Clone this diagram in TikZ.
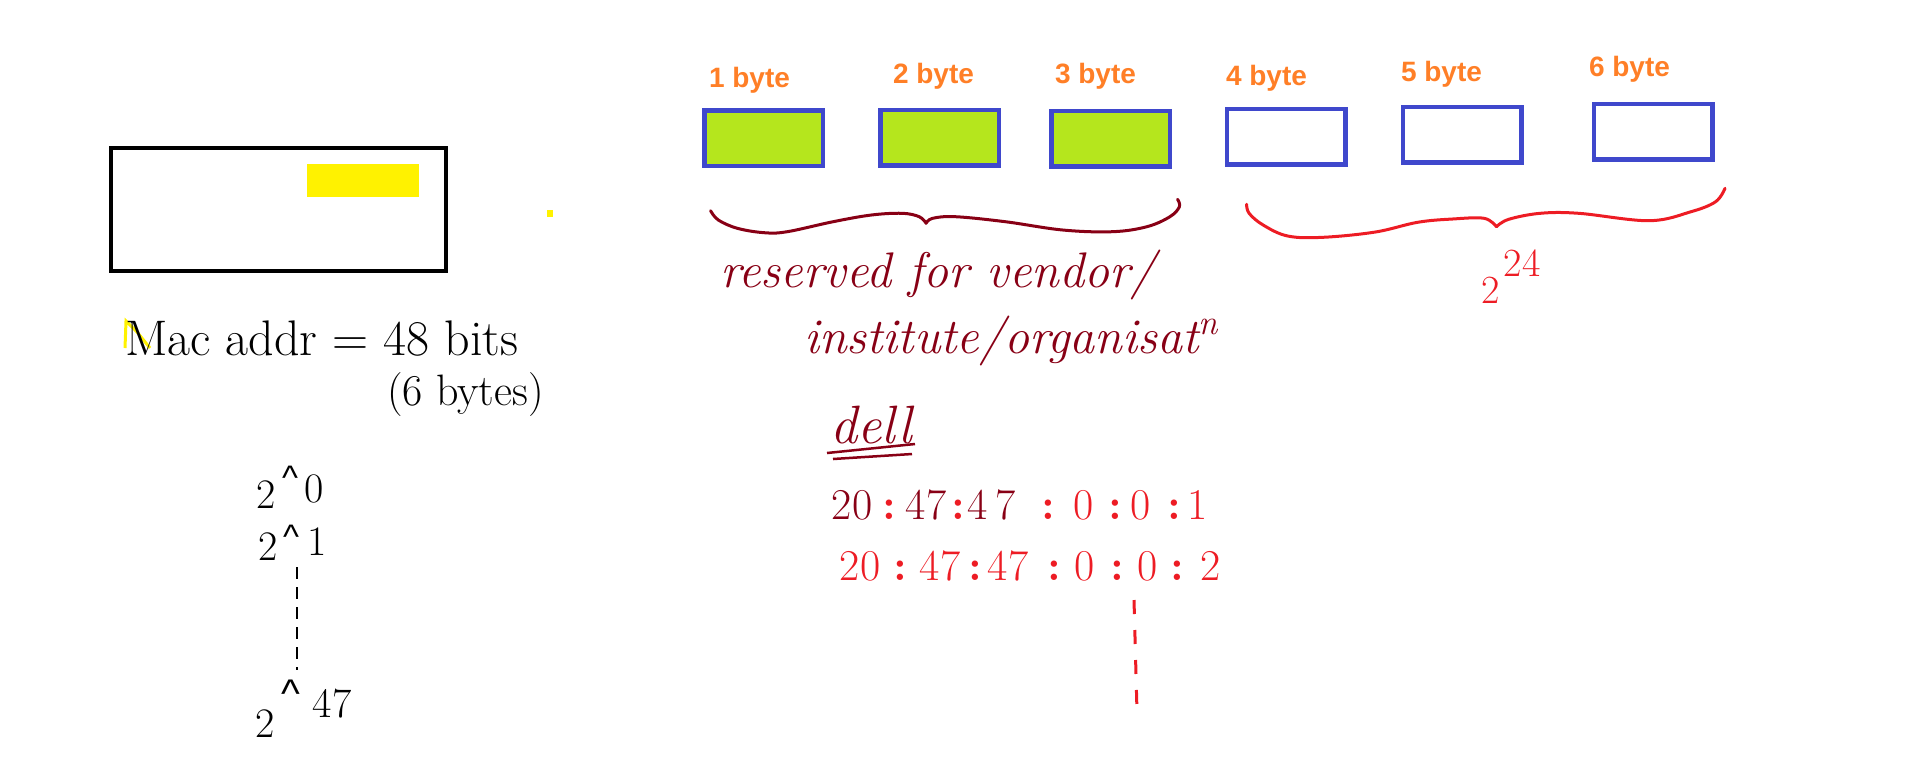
\documentclass[tikz,border=0pt]{standalone}
\usepackage{fontspec}
\newfontfamily\labfont{Liberation Sans}
\definecolor{cOrange}{HTML}{FF7F27}
\definecolor{cBlue}{HTML}{3F48CC}
\definecolor{cLime}{HTML}{B5E61D}
\definecolor{cYellow}{HTML}{FFF200}
\definecolor{cDark}{HTML}{880015}
\definecolor{cRed}{HTML}{ED1C24}
\begin{document}
\begin{tikzpicture}[x=0.5pt,y=-0.5pt,
  nd/.style={inner sep=0pt,outer sep=0pt},
  bytebox/.style={nd,draw=cBlue,line width=2.25pt,minimum width=59.25pt,minimum height=27.75pt},
  bytelab/.style={nd,anchor=base west,text=cOrange,font=\labfont\bfseries\fontsize{14}{16}\selectfont},
  blk/.style={nd,anchor=base,font=\fontsize{21}{24}\selectfont},
  caret/.style={nd,anchor=base,font=\labfont\fontsize{17}{20}\selectfont},
  dig/.style={nd,anchor=base,font=\fontsize{22}{24}\selectfont},
  col/.style={dig,font=\bfseries\fontsize{22}{24}\selectfont,text=cRed},
  cur/.style={nd,anchor=base west,text=cDark,font=\itshape\fontsize{25}{28}\selectfont},
  brace/.style={line width=1.5pt,line cap=round,line join=round}]
\useasboundingbox (0,0) rectangle (1914,773);
% left frame
\node[nd,draw=black,line width=2pt,minimum width=167.5pt,minimum height=61.5pt] (frame) at (278.5,209.5) {};
\node[nd,fill=cYellow,minimum width=56pt,minimum height=16.5pt] (ybar) at (363,180.5) {};
\node[nd,fill=cYellow,minimum width=3pt,minimum height=3.5pt] (ydot) at (550,213.5) {};
% Mac address text
\draw[cYellow,line width=1.5pt] (125,348) -- (126,321) -- (137,332) -- (150,348);
\node[nd,anchor=base west,font=\fontsize{25}{28}\selectfont] (mac) at (125,355) {Mac addr = 48 bits};
\node[nd,anchor=base west,font=\fontsize{22}{26}\selectfont] (six) at (387,405) {(6 bytes)};
% powers of two
\node[blk] (p0a) at (266,508) {2};
\node[caret] (p0b) at (290,489.5) {\textasciicircum};
\node[blk] (p0c) at (314,502) {0};
\node[blk] (p1a) at (268,560) {2};
\node[caret] (p1b) at (291,548.5) {\textasciicircum};
\node[blk] (p1c) at (317,555) {1};
\node[blk] (p47a) at (265,737) {2};
\node[caret,font=\labfont\fontsize{20}{22}\selectfont] (p47b) at (291,707) {\textasciicircum};
\node[blk] (p47c) at (332,717) {47};
\coordinate (dtop) at (297,567);
\coordinate (dbot) at (297,670);
\draw[line width=1.25pt,dash pattern=on 6pt off 4pt] (dtop) -- (dbot);
% byte boxes
\node[bytebox,fill=cLime] (b1) at (763.5,138) {};
\node[bytebox,fill=cLime] (b2) at (939.5,137.5) {};
\node[bytebox,fill=cLime] (b3) at (1110.5,138.5) {};
\node[bytebox] (b4) at (1286,136.5) {};
\node[bytebox] (b5) at (1462,134.5) {};
\node[bytebox] (b6) at (1653,131.5) {};
\node[bytelab] (l1) at (709,87) {1 byte};
\node[bytelab] (l2) at (893,83) {2 byte};
\node[bytelab] (l3) at (1055,83) {3 byte};
\node[bytelab] (l4) at (1226,85) {4 byte};
\node[bytelab] (l5) at (1401,81) {5 byte};
\node[bytelab] (l6) at (1589,76) {6 byte};
% brace 1
\draw[brace,cDark] plot[smooth,tension=0.6] coordinates {(710.6,210.7) (718.3,220) (737.4,228.3) (764.2,232.7) (787.2,231.7) (833.1,221.7) (871.4,215) (902,213.3) (919.2,216.7) (926.1,223.3)};
\draw[brace,cDark] plot[smooth,tension=0.6] coordinates {(926.1,223.3) (932.6,218.3) (955.5,216.7) (1005.3,221.7) (1062.7,230) (1112.5,231.7) (1146.9,226.7) (1169.9,216.7) (1179.4,206.7) (1177.5,199.3)};
% brace 2
\draw[brace,cRed] plot[smooth,tension=0.6] coordinates {(1246.6,204.3) (1249.1,213.3) (1263.1,225) (1287.7,236) (1322.8,237.3) (1375.4,232) (1417.5,222.3) (1452.5,219) (1484.1,218.3) (1496.4,226.7)};
\draw[brace,cRed] plot[smooth,tension=0.6] coordinates {(1496.4,226.7) (1508.7,219.3) (1540.2,213.3) (1578.8,213.3) (1649,220.7) (1691,211.7) (1715.6,201.7) (1725,188.3)};
\node[nd,anchor=base,text=cRed,font=\fontsize{20}{22}\selectfont] (two) at (1491,303) {2};
\node[nd,anchor=base,text=cRed,font=\fontsize{20}{22}\selectfont] (tf) at (1522,276) {24};
% reserved text
\node[cur] (res) at (720,287) {reserved for vendor/};
\node[cur] (inst) at (804,353) {institute/organisat\textsuperscript{n}};
% dell
\node[nd,anchor=base west,text=cDark,font=\itshape\fontsize{27}{30}\selectfont] (dell) at (830,443) {dell};
\coordinate (u1a) at (827,453); \coordinate (u1b) at (915,444);
\coordinate (u2a) at (833,459); \coordinate (u2b) at (912,454);
\draw[cDark,line width=1.25pt] (u1a) -- (u1b);
\draw[cDark,line width=1.25pt] (u2a) -- (u2b);
% address line 1
\node[dig,text=cDark] (a1) at (852,519) {20};
\node[col] (a2) at (889,519) {:};
\node[dig,text=cDark] (a3) at (926,519) {47};
\node[col] (a4) at (958,519) {:};
\node[dig,text=cDark] (a5) at (992,519) {4\hspace{4pt}7};
\node[col] (a6) at (1048,519) {:};
\node[dig,text=cRed] (a7) at (1084,519) {0};
\node[col] (a8) at (1115,519) {:};
\node[dig,text=cRed] (a9) at (1141,519) {0};
\node[col] (a10) at (1174,519) {:};
\node[dig,text=cRed] (a11) at (1198,519) {1};
% address line 2
\node[dig,text=cRed] (c1) at (860,580) {20};
\node[col] (c2) at (900,580) {:};
\node[dig,text=cRed] (c3) at (940,580) {47};
\node[col] (c4) at (975,580) {:};
\node[dig,text=cRed] (c5) at (1008,580) {47};
\node[col] (c6) at (1054,580) {:};
\node[dig,text=cRed] (c7) at (1085,580) {0};
\node[col] (c8) at (1117,580) {:};
\node[dig,text=cRed] (c9) at (1148,580) {0};
\node[col] (c10) at (1177,580) {:};
\node[dig,text=cRed] (c11) at (1211,580) {2};
\coordinate (rtop) at (1134,600);
\coordinate (rbot) at (1137,712);
\draw[cRed,line width=1.5pt,dash pattern=on 7pt off 8pt] (rtop) -- (rbot);
\end{tikzpicture}
\end{document}
